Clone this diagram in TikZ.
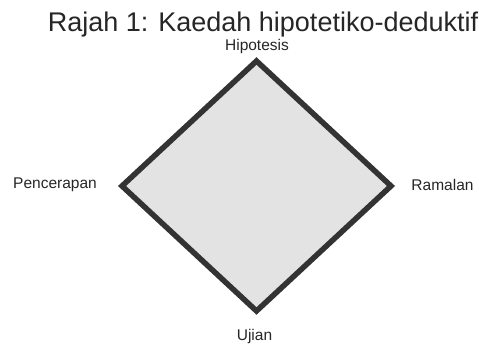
\documentclass[tikz,border=0pt]{standalone}
\usepackage{fontspec}
\setmainfont{Liberation Sans}
\usetikzlibrary{shadows}
\definecolor{edgegray}{HTML}{333333}
\definecolor{fillgray}{HTML}{E3E3E3}
\begin{document}
\begin{tikzpicture}[x=1pt,y=1pt,
  lbl/.style={font=\fontsize{15.5}{18}\selectfont, anchor=base, inner sep=0pt, text=black!85},
  ttl/.style={font=\fontsize{27}{32}\selectfont, anchor=base, inner sep=0pt, text=black!85}]
\useasboundingbox (0,0) rectangle (479,344);
\coordinate (T) at (256.5,283);
\coordinate (B) at (256.5,33);
\coordinate (L) at (122,158);
\coordinate (R) at (391,158);
\fill[black, opacity=0.18] ([shift={(1.5,-1.5)}]T) -- ([shift={(1.5,-1.5)}]R) -- ([shift={(1.5,-1.5)}]B) -- ([shift={(1.5,-1.5)}]L) -- cycle;
\draw[line width=5.5pt, draw=edgegray, fill=fillgray, line join=miter] (T) -- (R) -- (B) -- (L) -- cycle;
\node[ttl] (title) at (263,312) {Rajah 1: Kaedah hipotetiko-deduktif};
\node[lbl] (hip) at (257,293) {Hipotesis};
\node[lbl] (pen) at (55,155) {Pencerapan};
\node[lbl] (ram) at (442.5,153) {Ramalan};
\node[lbl] (uji) at (254.5,3) {Ujian};
\end{tikzpicture}
\end{document}
